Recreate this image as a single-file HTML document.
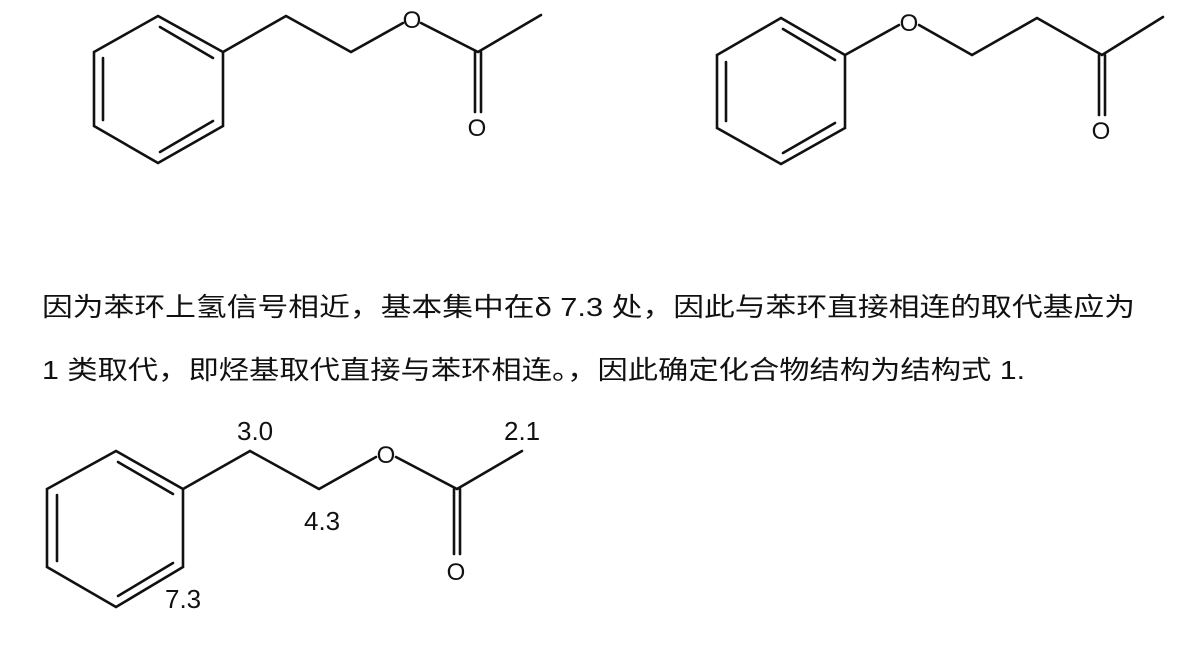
<!DOCTYPE html>
<html><head><meta charset="utf-8"><style>
html,body{margin:0;padding:0;background:#fff;}
svg{display:block;}
text{font-family:"Liberation Sans","Noto Sans CJK SC",sans-serif;fill:#111;}
</style></head><body>
<svg width="1198" height="648" viewBox="0 0 1198 648" xmlns="http://www.w3.org/2000/svg">
<g stroke="#111" stroke-width="2.6" fill="none" stroke-linecap="round">
<polygon points="158,16 94,52 94,126 158,163 223,126 223,52"/>
<line x1="103" y1="58" x2="103" y2="120"/>
<line x1="160" y1="27" x2="213" y2="58"/>
<line x1="160" y1="152" x2="213" y2="121"/>
<polyline points="223,52 286,16 351,52 403,23"/>
<polyline points="421,23 478,52 541,15"/>
<line x1="475" y1="52" x2="475" y2="112"/>
<line x1="481" y1="52" x2="481" y2="112"/>
<polygon points="781,18 717,55 717,128 781,164 845,128 845,55"/>
<line x1="726" y1="62" x2="726" y2="121"/>
<line x1="783" y1="29" x2="835" y2="60"/>
<line x1="783" y1="153" x2="835" y2="123"/>
<line x1="845" y1="55" x2="899" y2="25"/>
<polyline points="919,25 972,55 1037,18 1102,55 1163,17"/>
<line x1="1099" y1="55" x2="1099" y2="115"/>
<line x1="1105" y1="55" x2="1105" y2="115"/>
<polygon points="116,451 47,489 47,567 116,607 183,567 183,489"/>
<line x1="57" y1="495" x2="57" y2="561"/>
<line x1="118" y1="462" x2="173" y2="494"/>
<line x1="118" y1="596" x2="173" y2="563"/>
<polyline points="183,489 250,451 319,489 376,457"/>
<polyline points="396,457 457,489 522,451"/>
<line x1="454" y1="489" x2="454" y2="554"/>
<line x1="460" y1="489" x2="460" y2="554"/>
</g>
<g font-size="24">
<text x="412" y="28" text-anchor="middle">O</text>
<text x="477" y="136" text-anchor="middle">O</text>
<text x="909" y="31" text-anchor="middle">O</text>
<text x="1101" y="139" text-anchor="middle">O</text>
<text x="386" y="463" text-anchor="middle">O</text>
<text x="456" y="580" text-anchor="middle">O</text>
</g>
<g font-size="26">
<text x="237" y="440">3.0</text>
<text x="504" y="440">2.1</text>
<text x="304" y="530">4.3</text>
<text x="165" y="608">7.3</text>
</g>
<text x="42" y="316" font-size="26" textLength="1093" lengthAdjust="spacingAndGlyphs">因为苯环上氢信号相近，基本集中在δ 7.3 处，因此与苯环直接相连的取代基应为</text>
<text x="42" y="379" font-size="26" textLength="983" lengthAdjust="spacingAndGlyphs">1 类取代，即烃基取代直接与苯环相连。，因此确定化合物结构为结构式 1.</text>
</svg>
</body></html>
